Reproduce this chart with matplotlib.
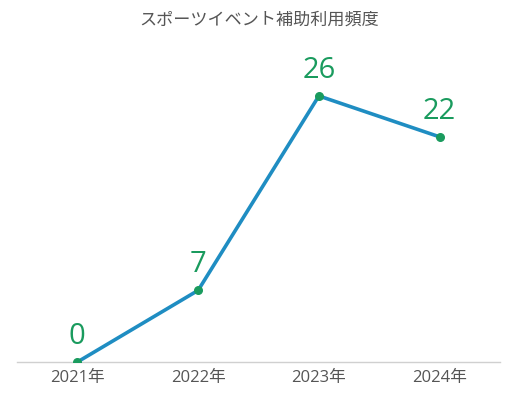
import matplotlib.pyplot as plt

plt.rcParams['font.family'] = ['Open Sans', 'Noto Sans CJK JP', 'DejaVu Sans']

years = ['2021年', '2022年', '2023年', '2024年']
counts = [0, 7, 26, 22]

fig = plt.figure(figsize=(5.18, 4.0), dpi=100)
ax = fig.add_axes([17/518, 38/400, 483/518, 307/400])

x = list(range(len(years)))
ax.plot(x, counts, color='#1f8dc2', lw=2.6, zorder=2)
ax.scatter(x, counts, color='#1a9b5e', s=30, zorder=3)
for xi, v in zip(x, counts):
    ax.annotate(str(v), (xi, v), xytext=(0, 8), textcoords='offset points',
                ha='center', va='bottom', fontsize=21, color='#1a9b5e')

ax.set_xlim(-0.5, 3.5)
ax.set_ylim(0, 30)
ax.set_xticks(x)
ax.set_xticklabels(years, fontsize=12, color='#555555')
ax.set_yticks([])
ax.tick_params(axis='x', length=0, pad=6)
for s in ['top', 'right', 'left']:
    ax.spines[s].set_visible(False)
ax.spines['bottom'].set_color('#d0d0d0')
ax.spines['bottom'].set_linewidth(1)
ax.patch.set_visible(False)

fig.text(0.5, 1 - 20/400, 'スポーツイベント補助利用頻度', ha='center', va='center',
         fontsize=12.3, color='#555555', family=['Noto Sans CJK JP', 'DejaVu Sans'])

fig.savefig('out.png', dpi=100)
